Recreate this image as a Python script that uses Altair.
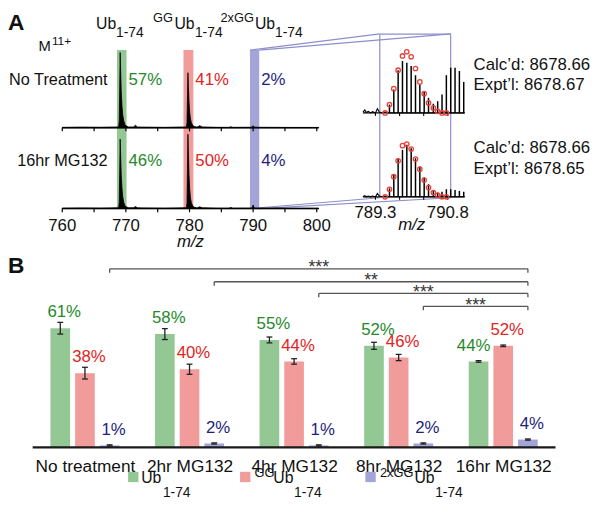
import json
import altair as alt
import pandas as pd

FONT = "Liberation Sans"
BLACK = "#111111"

# ====================== Panel A : mass spectra ======================
SERIES = ["Ub", "GGUb", "2xGGUb"]
SERIES_FILL = ["#93c793", "#f19b9b", "#a3a4d8"]
SERIES_INK = ["#25892b", "#e3231d", "#1e1e7c"]
BAND_LO = [768.6, 779.05, 789.5]
BAND_HI = [770.1, 780.6, 790.95]
BAND_TOP = 1.96

TRACES = ["No Treatment", "16hr MG132"]
TRACE_BASE = [1.0, 0.0]
PCT_A = [["57%", "41%", "2%"], ["46%", "50%", "4%"]]

SPEC_MZ = [760.0, 763.0, 766.0, 768.85, 768.95, 769.02, 769.1, 769.18, 769.27, 769.38,
           769.5, 769.65, 769.85, 770.1, 770.4, 771.2, 771.5, 771.8, 772.5, 776.0,
           779.5, 779.6, 779.67, 779.75, 779.83, 779.92, 780.03, 780.15, 780.3, 780.5,
           780.75, 781.1, 781.3, 781.6, 782.0, 784.5, 786.2, 786.5, 786.8, 789.7,
           789.9, 790.0, 790.1, 790.3, 793.0, 796.0, 800.3]
SPEC_TOP = [0.005, 0.008, 0.006, 0.01, 0.08, 0.45, 0.93, 0.7, 0.45, 0.28,
            0.16, 0.09, 0.04, 0.02, 0.01, 0.01, 0.03, 0.01, 0.008, 0.005,
            0.01, 0.06, 0.33, 0.68, 0.5, 0.32, 0.19, 0.11, 0.06, 0.03,
            0.015, 0.01, 0.012, 0.025, 0.01, 0.005, 0.005, 0.012, 0.005, 0.006,
            0.015, 0.025, 0.012, 0.006, 0.005, 0.004, 0.004]
SPEC_BOT = [0.005, 0.008, 0.006, 0.01, 0.07, 0.42, 0.86, 0.65, 0.42, 0.26,
            0.15, 0.08, 0.04, 0.02, 0.01, 0.01, 0.025, 0.01, 0.008, 0.005,
            0.01, 0.07, 0.45, 0.92, 0.68, 0.42, 0.24, 0.13, 0.07, 0.035,
            0.018, 0.01, 0.012, 0.022, 0.01, 0.005, 0.005, 0.015, 0.005, 0.006,
            0.02, 0.045, 0.018, 0.006, 0.005, 0.004, 0.004]
MAIN_TICKS = [760, 765, 770, 775, 780, 785, 790, 795, 800]
MAIN_LABELS = [760, 770, 780, 790, 800]
MAIN_AXIS = [760.0, 800.3]

# inset (isotope envelope of the 2xGG species)
INSET_MZ = [789.59, 789.68, 789.77, 789.86, 789.95, 790.04, 790.13, 790.22, 790.31,
            790.40, 790.50, 790.59, 790.68, 790.77, 790.86, 790.95, 791.04, 791.13]
INSET_TOP = [0.10, 0.28, 0.51, 0.62, 0.60, 0.56, 0.45, 0.34, 0.25,
             0.18, 0.11, 0.14, 0.22, 0.45, 0.54, 0.54, 0.50, 0.37]
INSET_BOT = [0.10, 0.27, 0.46, 0.56, 0.62, 0.58, 0.46, 0.36, 0.23,
             0.15, 0.08, 0.05, 0.06, 0.09, 0.09, 0.08, 0.07, 0.06]
THEO_MZ = [789.50, 789.59, 789.68, 789.77, 789.86, 789.95, 790.04, 790.13,
           790.22, 790.31, 790.40, 790.50, 790.59, 790.68, 790.77]
THEO_TOP = [0.0, 0.10, 0.29, 0.51, 0.68, 0.73, 0.67, 0.53, 0.37, 0.23, 0.12, 0.06, 0.02, 0.0, 0.0]
THEO_BOT = [0.0, 0.09, 0.24, 0.43, 0.61, 0.63, 0.57, 0.45, 0.33, 0.20, 0.11, 0.05, 0.02, 0.0, 0.0]
NOISE_MZ = [789.04, 789.08, 789.11, 789.15, 789.2, 789.24, 789.3, 789.34, 789.38, 789.44, 789.5, 789.55, 791.15]
NOISE_TOP = [0.01, 0.035, 0.005, 0.02, 0.0, 0.015, 0.0, 0.05, 0.01, 0.0, 0.01, 0.0, 0.0]
NOISE_BOT = [0.005, 0.015, 0.0, 0.01, 0.0, 0.01, 0.0, 0.04, 0.01, 0.0, 0.01, 0.0, 0.0]
INSET_TICKS = [789.3, 789.8, 790.3, 790.8]
INSET_LABELS = [789.3, 790.8]
INSET_AXIS = [789.04, 791.15]
INSET_BOX = [789.39, 790.86]
INSET_BOX_TOP = 1.94
BOX_ON_MAIN = [809.9, 821.1]   # where the inset box sits on the main m/z scale
BOX_TOP_MAIN = 2.16
BOX_BOT_MAIN = 0.134
MASS = ["Calc\u2019d: 8678.66", "Expt\u2019l: 8678.67", "Calc\u2019d: 8678.66", "Expt\u2019l: 8678.65"]

# ====================== Panel B : bar chart ======================
GROUPS = ["No treatment", "2hr MG132", "4hr MG132", "8hr MG132", "16hr MG132"]
UB = [61, 58, 55, 52, 44]
GG = [38, 40, 44, 46, 52]
GG2 = [1, 2, 1, 2, 4]
UB_ERR = [3.0, 2.8, 1.5, 1.8, 0.4]
GG_ERR = [3.0, 2.6, 1.4, 1.6, 0.4]
GG2_ERR = [0.3, 0.3, 0.3, 0.3, 0.3]
BR_FROM = [0, 1, 2, 3]
BR_TO = [4, 4, 4, 4]
BR_STARS = ["***", "**", "***", "***"]
BR_LEVEL = [91.4, 84.8, 78.8, 72.2]

BOX_COLOR = "#8d8ecb"
CIRCLE_RED = "#e8403a"

# ---------------------------------------------------------------- scales
XM = alt.Scale(domain=[751.47, 843.26], nice=False, zero=False)
YM = alt.Scale(domain=[-0.537, 2.439], nice=False, zero=False)
XI = alt.Scale(domain=[781.68, 793.79], nice=False, zero=False)
YI = alt.Scale(domain=[-0.659, 2.212], nice=False, zero=False)
XB = alt.Scale(domain=[-0.736, 4.849], nice=False, zero=False)
YB = alt.Scale(domain=[0, 100], nice=False, zero=False)


def txt(s, x, y, size=17, color=BLACK, align="left", baseline="alphabetic",
        weight="normal", style="normal"):
    return alt.Chart(pd.DataFrame({"t": [s]})).mark_text(
        align=align, baseline=baseline, fontSize=size, color=color,
        fontWeight=weight, fontStyle=style, font=FONT,
    ).encode(x=alt.value(x), y=alt.value(y), text="t:N")


def swatch(color, x, y):
    return alt.Chart(pd.DataFrame({"c": [color]})).mark_square(
        size=110, opacity=1, color=color).encode(x=alt.value(x), y=alt.value(y))


# ---------------------------------------------------------------- panel A main
bands_df = pd.DataFrame({"lo": BAND_LO, "hi": BAND_HI, "y0": 0.0, "y1": BAND_TOP,
                         "fill": SERIES_FILL})
bands = alt.Chart(bands_df).mark_rect().encode(
    x=alt.X("lo:Q", scale=XM, axis=None), x2="hi:Q",
    y=alt.Y("y0:Q", scale=YM, axis=None), y2="y1:Q",
    color=alt.Color("fill:N", scale=None))

conn_df = pd.DataFrame({
    "x0": [BAND_LO[2], BAND_HI[2], BAND_LO[2], BAND_HI[2]],
    "y0": [BAND_TOP, BAND_TOP, 0.0, 0.0],
    "x1": [BOX_ON_MAIN[0], BOX_ON_MAIN[1], BOX_ON_MAIN[0], BOX_ON_MAIN[1]],
    "y1": [BOX_TOP_MAIN, BOX_TOP_MAIN, BOX_BOT_MAIN, BOX_BOT_MAIN]})
conn = alt.Chart(conn_df).mark_rule(color=BOX_COLOR, strokeWidth=1.2).encode(
    x=alt.X("x0:Q", scale=XM, axis=None), x2="x1:Q",
    y=alt.Y("y0:Q", scale=YM, axis=None), y2="y1:Q")

rows = []
for name, base, ints in zip(TRACES, TRACE_BASE, [SPEC_TOP, SPEC_BOT]):
    for mz, v in zip(SPEC_MZ, ints):
        rows.append({"trace": name, "mz": mz, "base": base, "top": base + v})
spec_df = pd.DataFrame(rows)
spectra = alt.Chart(spec_df).mark_area(color="black", interpolate="linear",
                                       stroke="black", strokeWidth=0.8).encode(
    x=alt.X("mz:Q", scale=XM, axis=None),
    y=alt.Y("top:Q", scale=YM, axis=None, stack=None), y2="base:Q",
    detail="trace:N")

axis_df = pd.DataFrame({"x0": MAIN_AXIS[0], "x1": MAIN_AXIS[1], "y": TRACE_BASE})
main_axis = alt.Chart(axis_df).mark_rule(color="black", strokeWidth=1.5).encode(
    x=alt.X("x0:Q", scale=XM, axis=None), x2="x1:Q",
    y=alt.Y("y:Q", scale=YM, axis=None))
mt_df = pd.DataFrame([{"x": t, "y": b, "y2": b - 0.045} for b in TRACE_BASE for t in MAIN_TICKS])
main_ticks = alt.Chart(mt_df).mark_rule(color="black", strokeWidth=1.2).encode(
    x=alt.X("x:Q", scale=XM, axis=None),
    y=alt.Y("y:Q", scale=YM, axis=None), y2="y2:Q")
ml_df = pd.DataFrame({"x": MAIN_LABELS, "y": 0.0, "t": [str(v) for v in MAIN_LABELS]})
main_labels = alt.Chart(ml_df).mark_text(fontSize=17, baseline="middle", dy=18, color=BLACK).encode(
    x=alt.X("x:Q", scale=XM, axis=None), y=alt.Y("y:Q", scale=YM, axis=None), text="t:N")
mz_df = pd.DataFrame({"x": [(MAIN_AXIS[0] + MAIN_AXIS[1]) / 2], "y": [0.0], "t": ["m/z"]})
main_title = alt.Chart(mz_df).mark_text(fontSize=17, fontStyle="italic", baseline="middle",
                                        dy=34, color=BLACK).encode(
    x=alt.X("x:Q", scale=XM, axis=None), y=alt.Y("y:Q", scale=YM, axis=None), text="t:N")

pct_rows = []
for base, pcts in zip(TRACE_BASE, PCT_A):
    for hi, p, ink in zip(BAND_HI, pcts, SERIES_INK):
        pct_rows.append({"hi": hi, "base": base, "t": p, "ink": ink})
pct_a = alt.Chart(pd.DataFrame(pct_rows)).mark_text(
    align="left", baseline="middle", dx=2, dy=-48, fontSize=17).encode(
    x=alt.X("hi:Q", scale=XM, axis=None), y=alt.Y("base:Q", scale=YM, axis=None),
    text="t:N", color=alt.Color("ink:N", scale=None))

trace_lab = alt.Chart(pd.DataFrame({"name": TRACES, "base": TRACE_BASE})).mark_text(
    align="right", baseline="middle", dy=-48, fontSize=16.5, color=BLACK).encode(
    x=alt.value(101), y=alt.Y("base:Q", scale=YM, axis=None), text="name:N")

header = [
    txt("A", 0, 18.5, size=23, weight="bold"),
    txt("M", 31, 40, size=15), txt("11+", 44.5, 34, size=12),
    txt("Ub", 89.3, 18, size=16), txt("1-74", 109.5, 26.5, size=14),
    txt("GG", 147, 10.5, size=13), txt("Ub", 168.7, 18, size=16), txt("1-74", 189.5, 26.5, size=14),
    txt("2xGG", 215.3, 10.5, size=13), txt("Ub", 250.3, 18, size=16), txt("1-74", 270.7, 26.5, size=14),
]

main_layer = alt.layer(bands, conn, spectra, main_axis, main_ticks, main_labels, main_title,
                       pct_a, trace_lab, *header)

# ---------------------------------------------------------------- panel A inset
boxv_df = pd.DataFrame({"x": INSET_BOX, "y0": 0.0, "y1": INSET_BOX_TOP})
box_v = alt.Chart(boxv_df).mark_rule(color=BOX_COLOR, strokeWidth=1.2).encode(
    x=alt.X("x:Q", scale=XI, axis=None), y=alt.Y("y0:Q", scale=YI, axis=None), y2="y1:Q")
boxt_df = pd.DataFrame({"x0": [INSET_BOX[0]], "x1": [INSET_BOX[1]], "y": [INSET_BOX_TOP]})
box_t = alt.Chart(boxt_df).mark_rule(color=BOX_COLOR, strokeWidth=1.2).encode(
    x=alt.X("x0:Q", scale=XI, axis=None), x2="x1:Q", y=alt.Y("y:Q", scale=YI, axis=None))

iax_df = pd.DataFrame({"x0": INSET_AXIS[0], "x1": INSET_AXIS[1], "y": TRACE_BASE})
i_axis = alt.Chart(iax_df).mark_rule(color="black", strokeWidth=1.3).encode(
    x=alt.X("x0:Q", scale=XI, axis=None), x2="x1:Q", y=alt.Y("y:Q", scale=YI, axis=None))
it_df = pd.DataFrame([{"x": t, "y": b, "y2": b - 0.035} for b in TRACE_BASE for t in INSET_TICKS])
i_ticks = alt.Chart(it_df).mark_rule(color="black", strokeWidth=1.1).encode(
    x=alt.X("x:Q", scale=XI, axis=None), y=alt.Y("y:Q", scale=YI, axis=None), y2="y2:Q")
il_df = pd.DataFrame({"x": INSET_LABELS, "y": 0.0, "t": [str(v) for v in INSET_LABELS]})
i_labels = alt.Chart(il_df).mark_text(fontSize=17, baseline="middle", dy=16, color=BLACK).encode(
    x=alt.X("x:Q", scale=XI, axis=None), y=alt.Y("y:Q", scale=YI, axis=None), text="t:N")
imz_df = pd.DataFrame({"x": [790.05], "y": [0.0], "t": ["m/z"]})
i_title = alt.Chart(imz_df).mark_text(fontSize=17, fontStyle="italic", baseline="middle",
                                      dy=29, color=BLACK).encode(
    x=alt.X("x:Q", scale=XI, axis=None), y=alt.Y("y:Q", scale=YI, axis=None), text="t:N")

stick_rows, noise_rows, theo_rows = [], [], []
for name, base, hs, ns, ths in zip(TRACES, TRACE_BASE, [INSET_TOP, INSET_BOT],
                                   [NOISE_TOP, NOISE_BOT], [THEO_TOP, THEO_BOT]):
    for mz, h in zip(INSET_MZ, hs):
        stick_rows.append({"mz": mz, "y0": base, "y1": base + h})
    for mz, h in zip(NOISE_MZ, ns):
        noise_rows.append({"trace": name, "mz": mz, "y": base + h})
    for mz, h in zip(THEO_MZ, ths):
        theo_rows.append({"mz": mz, "y": base + h})
sticks = alt.Chart(pd.DataFrame(stick_rows)).mark_rule(color="black", strokeWidth=1.5).encode(
    x=alt.X("mz:Q", scale=XI, axis=None), y=alt.Y("y0:Q", scale=YI, axis=None), y2="y1:Q")
noise = alt.Chart(pd.DataFrame(noise_rows)).mark_line(color="black", strokeWidth=1.1).encode(
    x=alt.X("mz:Q", scale=XI, axis=None), y=alt.Y("y:Q", scale=YI, axis=None), detail="trace:N")
theo = alt.Chart(pd.DataFrame(theo_rows)).mark_point(
    shape="circle", filled=False, size=20, color=CIRCLE_RED, strokeWidth=1.3, opacity=1).encode(
    x=alt.X("mz:Q", scale=XI, axis=None), y=alt.Y("y:Q", scale=YI, axis=None))

mass_txt = [txt(MASS[0], 472, 54, baseline="middle"), txt(MASS[1], 472, 75, baseline="middle"),
            txt(MASS[2], 472, 139, baseline="middle"), txt(MASS[3], 472, 160, baseline="middle")]

inset_layer = alt.layer(box_v, box_t, i_axis, i_ticks, noise, sticks, theo, i_labels, i_title,
                        *mass_txt)

panel_a = alt.layer(main_layer, inset_layer).resolve_scale(
    x="independent", y="independent").properties(width=592, height=244)

# ---------------------------------------------------------------- panel B
SLOT = 0.236
HALF = 0.094
CAP = 0.028
brow = []
for i, g in enumerate(GROUPS):
    for s, (ser, vals, errs) in enumerate(zip(SERIES, [UB, GG, GG2], [UB_ERR, GG_ERR, GG2_ERR])):
        pos = i + (s - 1) * SLOT
        brow.append({"group": g, "series": ser, "pos": pos, "xl": pos - HALF, "xr": pos + HALF,
                     "cl": pos - CAP, "cr": pos + CAP, "value": vals[i], "zero": 0.0,
                     "lo": vals[i] - errs[i], "hi": vals[i] + errs[i],
                     "fill": SERIES_FILL[s], "ink": SERIES_INK[s], "label": f"{vals[i]}%"})
bdf = pd.DataFrame(brow)

AXB = alt.Axis(values=list(range(len(GROUPS))),
               labelExpr=json.dumps(GROUPS) + "[datum.value]",
               title=None, domain=False, ticks=False, grid=False, labelFlush=False,
               labelOverlap=False, labelFontSize=17.5, labelColor=BLACK, labelFont=FONT,
               labelPadding=10)

bars = alt.Chart(bdf).mark_rect().encode(
    x=alt.X("xl:Q", scale=XB, axis=AXB), x2="xr:Q",
    y=alt.Y("zero:Q", scale=YB, axis=None), y2="value:Q",
    color=alt.Color("fill:N", scale=None))
ebar = alt.Chart(bdf).mark_rule(color="#222222", strokeWidth=1.3).encode(
    x=alt.X("pos:Q", scale=XB, axis=AXB), y=alt.Y("lo:Q", scale=YB, axis=None), y2="hi:Q")
cap_lo = alt.Chart(bdf).mark_rule(color="#222222", strokeWidth=1.3).encode(
    x=alt.X("cl:Q", scale=XB, axis=AXB), x2="cr:Q", y=alt.Y("lo:Q", scale=YB, axis=None))
cap_hi = alt.Chart(bdf).mark_rule(color="#222222", strokeWidth=1.3).encode(
    x=alt.X("cl:Q", scale=XB, axis=AXB), x2="cr:Q", y=alt.Y("hi:Q", scale=YB, axis=None))
base_df = pd.DataFrame({"x0": [-0.5], "x1": [len(GROUPS) - 0.5], "y": [0.0]})
baseline = alt.Chart(base_df).mark_rule(color="#1a1a1a", strokeWidth=2.2).encode(
    x=alt.X("x0:Q", scale=XB, axis=AXB), x2="x1:Q", y=alt.Y("y:Q", scale=YB, axis=None))

shift = (bdf["group"] == GROUPS[-1]) & (bdf["series"] == "Ub")
lab_main = alt.Chart(bdf[~shift]).mark_text(fontSize=17, baseline="middle", dx=4, dy=-16).encode(
    x=alt.X("pos:Q", scale=XB, axis=AXB), y=alt.Y("value:Q", scale=YB, axis=None),
    text="label:N", color=alt.Color("ink:N", scale=None))
lab_shift = alt.Chart(bdf[shift]).mark_text(fontSize=17, baseline="middle", dx=-5, dy=-16).encode(
    x=alt.X("pos:Q", scale=XB, axis=AXB), y=alt.Y("value:Q", scale=YB, axis=None),
    text="label:N", color=alt.Color("ink:N", scale=None))

br_rows = []
for f, t, st, lv in zip(BR_FROM, BR_TO, BR_STARS, BR_LEVEL):
    x0 = f + SLOT
    x1 = t + SLOT
    br_rows.append({"x0": x0, "x1": x1, "mid": (x0 + x1) / 2, "y": lv, "yd": lv - 2.0, "s": st})
brdf = pd.DataFrame(br_rows)
br_h = alt.Chart(brdf).mark_rule(color="#555555", strokeWidth=1.3).encode(
    x=alt.X("x0:Q", scale=XB, axis=AXB), x2="x1:Q", y=alt.Y("y:Q", scale=YB, axis=None))
br_l = alt.Chart(brdf).mark_rule(color="#555555", strokeWidth=1.3).encode(
    x=alt.X("x0:Q", scale=XB, axis=AXB), y=alt.Y("y:Q", scale=YB, axis=None), y2="yd:Q")
br_r = alt.Chart(brdf).mark_rule(color="#555555", strokeWidth=1.3).encode(
    x=alt.X("x1:Q", scale=XB, axis=AXB), y=alt.Y("y:Q", scale=YB, axis=None), y2="yd:Q")
br_s = alt.Chart(brdf).mark_text(fontSize=18, baseline="alphabetic", dy=4.5, color="#333333").encode(
    x=alt.X("mid:Q", scale=XB, axis=AXB), y=alt.Y("y:Q", scale=YB, axis=None), text="s:N")

legend = [
    swatch(SERIES_FILL[0], 127, 228), swatch(SERIES_FILL[1], 240.5, 228), swatch(SERIES_FILL[2], 367.5, 228),
    txt("Ub", 135, 234, size=16), txt("1-74", 157, 248, size=14),
    txt("GG", 250, 228, size=13), txt("Ub", 269, 234, size=16), txt("1-74", 290, 248, size=14),
    txt("2xGG", 377, 228, size=13), txt("Ub", 412, 234, size=16), txt("1-74", 433, 248, size=14),
    txt("B", 0, 21, size=23, weight="bold"),
]

panel_b = alt.layer(bars, ebar, cap_lo, cap_hi, baseline, lab_main, lab_shift,
                    br_h, br_l, br_r, br_s, *legend).properties(width=592, height=198)

chart = alt.vconcat(panel_a, panel_b, spacing=0, bounds="flush").properties(padding=0)
chart = chart.configure(font=FONT).configure_view(strokeWidth=0)
chart.save("out.html", embed_options={"renderer": "svg", "actions": False})
